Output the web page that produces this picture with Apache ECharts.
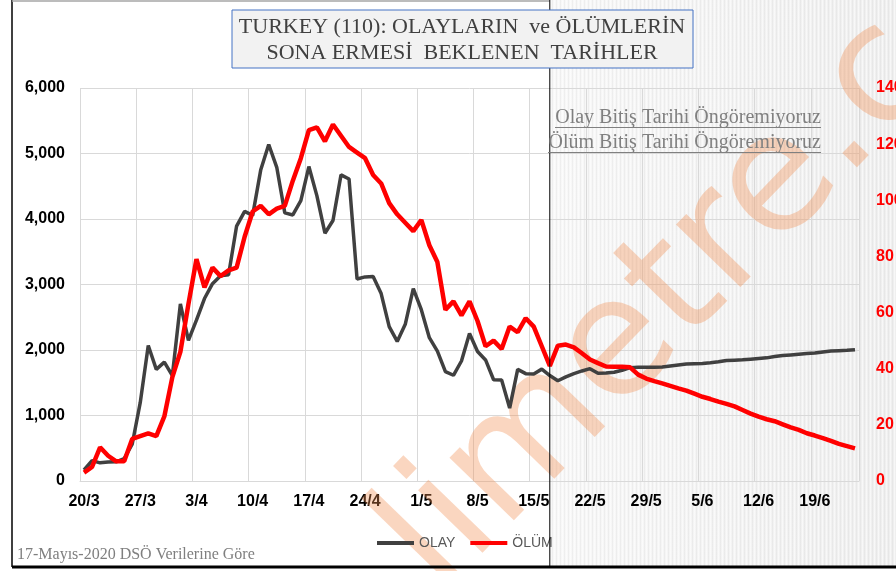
<!DOCTYPE html>
<html>
<head>
<meta charset="utf-8">
<title>Turkey</title>
<script src="https://cdn.jsdelivr.net/npm/echarts/dist/echarts.min.js"></script>
<style>
  html, body { margin: 0; padding: 0; background: #fff; }
  #chart { width: 896px; height: 571px; }
</style>
</head>
<body>
<div id="chart"></div>
<script>
// tarih ekseni (20/3 - 24/6)
var tarihler = [
  '20/3','21/3','22/3','23/3','24/3','25/3','26/3','27/3','28/3','29/3','30/3','31/3',
  '1/4','2/4','3/4','4/4','5/4','6/4','7/4','8/4','9/4','10/4','11/4','12/4','13/4','14/4','15/4',
  '16/4','17/4','18/4','19/4','20/4','21/4','22/4','23/4','24/4','25/4','26/4','27/4','28/4','29/4','30/4',
  '1/5','2/5','3/5','4/5','5/5','6/5','7/5','8/5','9/5','10/5','11/5','12/5','13/5','14/5','15/5',
  '16/5','17/5','18/5','19/5','20/5','21/5','22/5','23/5','24/5','25/5','26/5','27/5','28/5','29/5','30/5','31/5',
  '1/6','2/6','3/6','4/6','5/6','6/6','7/6','8/6','9/6','10/6','11/6','12/6','13/6','14/6','15/6',
  '16/6','17/6','18/6','19/6','20/6','21/6','22/6','23/6','24/6'
];

// OLAY: 20/3 - 17/5 (DSO verisi)
var olayGercek = [
  168, 311, 277, 289, 293, 343, 561, 1196, 2069, 1704, 1815, 1610, 2704, 2148, 2456,
  2786, 3013, 3135, 3148, 3892, 4117, 4056, 4747, 5138, 4789, 4093, 4062, 4281, 4801,
  4353, 3783, 3977, 4674, 4611, 3083, 3116, 3122, 2861, 2357, 2131, 2392, 2936, 2615,
  2188, 1983, 1670, 1614, 1832, 2253, 1977, 1848, 1546, 1542, 1114, 1704, 1639, 1635,
  1708, 1610
];
// OLAY: 18/5 - 24/6 (tahmin)
var olayTahmin = [
  1530, 1590, 1640, 1680, 1715, 1645, 1650, 1660, 1690, 1730,
  1735, 1735, 1735, 1740, 1755, 1770, 1785, 1790, 1795, 1805,
  1820, 1840, 1845, 1850, 1860, 1870, 1880, 1900, 1915, 1925,
  1935, 1945, 1955, 1970, 1985, 1990, 1995, 2005
];

// OLUM: 20/3 - 17/5
var olumGercek = [
  3, 5, 12, 9, 7, 7, 15, 16, 17, 16, 23, 37, 46, 63, 79, 69, 76, 73, 75, 76,
  87, 96, 98, 95, 97, 98, 107, 115, 125, 126, 121, 127, 123, 119, 117, 115, 109, 106,
  99, 95, 92, 89, 93, 84, 78, 61, 64, 59, 64, 57, 48, 50, 47, 55, 53, 58, 55, 48, 41
];
// OLUM: 18/5 - 24/6 (tahmin)
var olumTahmin = [
  48.2, 48.6, 47.6, 45.5, 43.3, 42, 40.8, 40.7, 40.7, 40.5,
  37.9, 36.5, 35.6, 34.8, 33.9, 33.0, 32.2, 31.1, 30.0, 29.2,
  28.3, 27.5, 26.6, 25.3, 24.0, 22.9, 22.0, 21.3, 20.2, 19.1,
  18.2, 17.0, 16.2, 15.3, 14.3, 13.2, 12.4, 11.6
];

var olay = olayGercek.concat(olayTahmin);
var olum = olumGercek.concat(olumTahmin);
var sonVeriGunu = '17/5';

var chart = echarts.init(document.getElementById('chart'), null, { renderer: 'canvas' });

var options = {
  animation: false,
  grid: { left: 80, right: 37, top: 88, bottom: 90, outerBoundsMode: 'none', containLabel: false },
  legend: {
    left: 372,
    top: 531,
    icon: 'rect',
    itemWidth: 37,
    itemHeight: 4,
    itemGap: 15,
    textStyle: { color: '#595959', fontSize: 14, fontFamily: 'Liberation Sans' },
    data: ['OLAY', 'ÖLÜM']
  },
  xAxis: {
    type: 'category',
    data: tarihler,
    boundaryGap: true,
    axisLine: { lineStyle: { color: '#d9d9d9' } },
    axisTick: { show: false },
    axisLabel: {
      interval: 6,
      margin: 13,
      color: '#000',
      fontWeight: 'bold',
      fontSize: 16,
      fontFamily: 'Liberation Sans'
    },
    splitLine: { show: true, interval: 6, lineStyle: { color: '#d9d9d9' } }
  },
  yAxis: [
    {
      type: 'value',
      min: 0,
      max: 6000,
      interval: 1000,
      axisLine: { show: false },
      axisTick: { show: false },
      axisLabel: {
        margin: 15,
        color: '#000',
        fontWeight: 'bold',
        fontSize: 16,
        fontFamily: 'Liberation Sans',
        formatter: function (v) { return v.toLocaleString('en-US'); }
      },
      splitLine: { lineStyle: { color: '#d9d9d9' } }
    },
    {
      type: 'value',
      min: 0,
      max: 140,
      interval: 20,
      axisLine: { show: false },
      axisTick: { show: false },
      splitLine: { show: false },
      axisLabel: {
        margin: 17,
        color: '#ff0000',
        fontWeight: 'bold',
        fontSize: 16,
        fontFamily: 'Liberation Sans'
      }
    }
  ],
  series: [
    {
      name: 'OLAY',
      type: 'line',
      data: olay,
      yAxisIndex: 0,
      showSymbol: false,
      z: 4,
      itemStyle: { color: '#404040' },
      lineStyle: { color: '#404040', width: 3.5 }
    },
    {
      name: 'ÖLÜM',
      type: 'line',
      data: olum,
      yAxisIndex: 1,
      showSymbol: false,
      z: 5,
      itemStyle: { color: '#ff0000' },
      lineStyle: { color: '#ff0000', width: 4.5 }
    }
  ]
};

chart.setOption(options);

// tahmin bolgesi icin cizgili desen
function desen() {
  var c = document.createElement('canvas');
  c.width = 4;
  c.height = 4;
  var ctx = c.getContext('2d');
  ctx.fillStyle = 'rgba(0,0,0,0.035)';
  ctx.fillRect(0, 0, 1, 4);
  ctx.fillStyle = 'rgba(255,255,255,0.5)';
  ctx.fillRect(2, 0, 1, 4);
  return c;
}

var kesX = chart.convertToPixel({ xAxisIndex: 0 }, sonVeriGunu);
var W = 896, H = 567;

chart.setOption({
  graphic: [
    // tahmin bolgesi arka plani
    {
      type: 'rect', z: -1, silent: true,
      shape: { x: kesX, y: 0, width: W - kesX, height: H },
      style: {
        fill: new echarts.graphic.LinearGradient(0, 0, 1, 0, [
          { offset: 0, color: '#f8f8f8' },
          { offset: 1, color: '#efefef' }
        ])
      }
    },
    {
      type: 'rect', z: -1, silent: true,
      shape: { x: kesX, y: 0, width: W - kesX, height: H },
      style: { fill: { image: desen(), repeat: 'repeat' } }
    },
    // filigran
    {
      type: 'text', z: 1, silent: true,
      x: 752, y: 214, rotation: 0.8,
      style: {
        text: 'limetre.com',
        fontSize: 164,
        fontWeight: 'normal',
        fontFamily: 'DejaVu Sans',
        fill: 'rgba(240,140,80,0.36)',
        align: 'center',
        verticalAlign: 'middle'
      }
    },
    // cerceve
    { type: 'line', z: 6, silent: true, shape: { x1: 12, y1: 0, x2: 12, y2: H }, style: { stroke: '#000', lineWidth: 1.5 } },
    { type: 'line', z: 6, silent: true, shape: { x1: 12, y1: 1, x2: kesX, y2: 1 }, style: { stroke: '#a6a6a6', lineWidth: 1.5 } },
    { type: 'line', z: 6, silent: true, shape: { x1: 12, y1: H, x2: W, y2: H }, style: { stroke: '#000', lineWidth: 3 } },
    // 17 Mayis ayrim cizgisi
    { type: 'line', z: 6, silent: true, shape: { x1: kesX, y1: 0, x2: kesX, y2: H }, style: { stroke: '#000', lineWidth: 1 } },
    // baslik kutusu
    {
      type: 'rect', z: 10, silent: true,
      shape: { x: 232, y: 10, width: 461, height: 58 },
      style: { fill: '#f2f2f2', stroke: '#4472c4', lineWidth: 1 }
    },
    {
      type: 'text', z: 11, silent: true, x: 462, y: 27,
      style: {
        text: 'TURKEY (110): OLAYLARIN  ve ÖLÜMLERİN',
        fontSize: 22, fontFamily: 'Liberation Serif', fill: '#404040',
        align: 'center', verticalAlign: 'middle'
      }
    },
    {
      type: 'text', z: 11, silent: true, x: 462, y: 53,
      style: {
        text: 'SONA ERMESİ  BEKLENEN  TARİHLER',
        fontSize: 22, fontFamily: 'Liberation Serif', fill: '#404040',
        align: 'center', verticalAlign: 'middle'
      }
    },
    // ongoru notlari
    {
      type: 'text', z: 11, silent: true, x: 821, y: 118,
      style: {
        text: 'Olay Bitiş Tarihi Öngöremiyoruz',
        fontSize: 20, fontFamily: 'Liberation Serif', fill: '#808080',
        align: 'right', verticalAlign: 'middle'
      }
    },
    { type: 'line', z: 11, silent: true, shape: { x1: 555, y1: 127.5, x2: 821, y2: 127.5 }, style: { stroke: '#808080', lineWidth: 1 } },
    {
      type: 'text', z: 11, silent: true, x: 821, y: 143,
      style: {
        text: 'Ölüm Bitiş Tarihi Öngöremiyoruz',
        fontSize: 20, fontFamily: 'Liberation Serif', fill: '#808080',
        align: 'right', verticalAlign: 'middle'
      }
    },
    { type: 'line', z: 11, silent: true, shape: { x1: 548, y1: 152.5, x2: 821, y2: 152.5 }, style: { stroke: '#808080', lineWidth: 1 } },
    // kaynak notu
    {
      type: 'text', z: 11, silent: true, x: 17, y: 555,
      style: {
        text: '17-Mayıs-2020 DSÖ Verilerine Göre',
        fontSize: 16, fontFamily: 'Liberation Serif', fill: '#7f7f7f',
        align: 'left', verticalAlign: 'middle'
      }
    }
  ]
});
</script>
</body>
</html>
